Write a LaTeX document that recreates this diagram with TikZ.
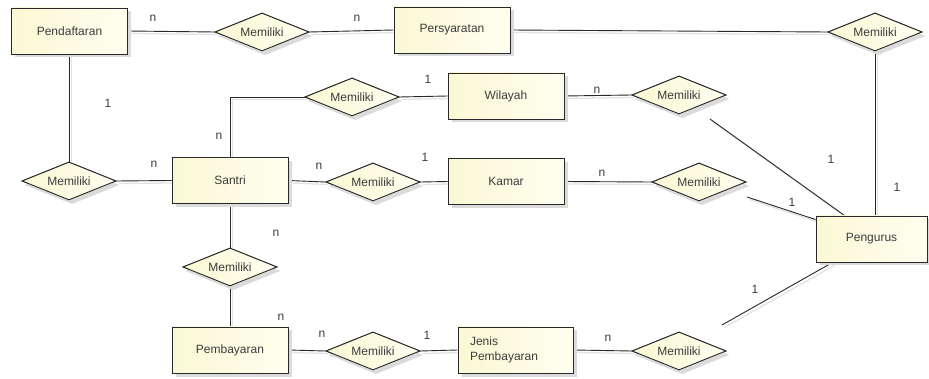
\documentclass[tikz,border=0pt]{standalone}
\usepackage{fontspec}
\setmainfont{Liberation Sans}
\usetikzlibrary{shapes.geometric,shadows}
\definecolor{fillL}{RGB}{251,248,212}
\definecolor{fillR}{RGB}{254,254,240}
\definecolor{inkc}{RGB}{40,40,40}
\definecolor{txtc}{RGB}{60,60,60}
\begin{document}
\begin{tikzpicture}[x=1pt,y=-1pt,
  every node/.style={font=\fontsize{12}{14}\selectfont, text=txtc},
  entity/.style={draw=inkc, line width=0.9pt, rectangle, minimum width=116pt, minimum height=46pt, inner sep=0pt,
     left color=fillL, right color=fillR,
     drop shadow={shadow xshift=3.5pt, shadow yshift=-3.5pt, fill=black!14, opacity=1}},
  rel/.style={draw=inkc, line width=0.9pt, diamond, aspect=2.47, minimum width=94pt, minimum height=38pt, inner sep=0pt,
     left color=fillL, right color=fillR,
     drop shadow={shadow xshift=3pt, shadow yshift=-4pt, fill=black!14, opacity=1}},
  conn/.style={draw=inkc, line width=0.9pt,
     preaction={draw=black!11, line width=1.3pt, transform canvas={xshift=2.5pt,yshift=-2.5pt}}},
  card/.style={inner sep=0pt}
]
\useasboundingbox (0,0) rectangle (929,379);
\fill[white] (0,0) rectangle (929,379);

% entities
\node[entity] (pend) at (69.5,31) {Pendaftaran};
\node[entity] (pers) at (452,30) {Persyaratan};
\node[entity] (wil) at (506,96) {Wilayah};
\node[entity] (san) at (230,180.5) {Santri};
\node[entity] (kam) at (506,181.5) {Kamar};
\node[entity, minimum width=111pt] (peng) at (871.5,239) {Pengurus};
\node[entity] (pemb) at (230,350) {Pembayaran};
\node[entity, minimum width=115pt, align=left, text width=91pt, font=\fontsize{12}{15}\selectfont] (jenis) at (515.5,350) {Jenis\\Pembayaran};

% relationships
\node[rel] (d1) at (262,32) {Memiliki};
\node[rel] (d2) at (875,32) {Memiliki};
\node[rel] (d3) at (352,97) {Memiliki};
\node[rel] (d4) at (679,95) {Memiliki};
\node[rel] (d5) at (69,181) {Memiliki};
\node[rel] (d6) at (373,182) {Memiliki};
\node[rel] (d7) at (699,182) {Memiliki};
\node[rel] (d8) at (230,267) {Memiliki};
\node[rel] (d9) at (373,351) {Memiliki};
\node[rel] (d10) at (679,351) {Memiliki};

% free ends
\coordinate (f4) at (710,119);
\coordinate (f7) at (747,197);
\coordinate (f10) at (722,325);

% connectors
\draw[conn] (pend.east) -- (d1.west);
\draw[conn] (d1.east) -- (pers.west);
\draw[conn] (pers.east) -- (d2.west);
\draw[conn] (d2.south) -- (d2.south |- peng.north);
\draw[conn] (d5.north |- pend.south) -- (d5.north);
\draw[conn] (d5.east) -- (san.west);
\draw[conn] (san.north) |- (d3.west);
\draw[conn] (d3.east) -- (wil.west);
\draw[conn] (wil.east) -- (d4.west);
\draw[conn] (f4) -- ([xshift=29pt]peng.north west);
\draw[conn] (san.east) -- (d6.west);
\draw[conn] (d6.east) -- (kam.west);
\draw[conn] (kam.east) -- (d7.west);
\draw[conn] (f7) -- ([yshift=-4pt]peng.north west);
\draw[conn] (san.south) -- (d8.north);
\draw[conn] (d8.south) -- (pemb.north);
\draw[conn] (pemb.east) -- (d9.west);
\draw[conn] (d9.east) -- (jenis.west);
\draw[conn] (jenis.east) -- (d10.west);
\draw[conn] (f10) -- ([xshift=17pt]peng.south west);

% redraw nodes on top of connectors
\node[entity] at (pend) {Pendaftaran};
\node[entity] at (pers) {Persyaratan};
\node[entity] at (wil) {Wilayah};
\node[entity] at (san) {Santri};
\node[entity] at (kam) {Kamar};
\node[entity, minimum width=111pt] at (peng) {Pengurus};
\node[entity] at (pemb) {Pembayaran};
\node[entity, minimum width=115pt, align=left, text width=91pt, font=\fontsize{12}{15}\selectfont] at (jenis) {Jenis\\Pembayaran};
\foreach \d in {d1,d2,d3,d4,d5,d6,d7,d8,d9,d10} {\node[rel] at (\d) {Memiliki};}

% cardinalities
\node[card] (c1) at (153,18) {n};
\node[card] (c2) at (357,18) {n};
\node[card] (c3) at (108,103) {1};
\node[card] (c4) at (428,79) {1};
\node[card] (c5) at (597,90) {n};
\node[card] (c6) at (219,136) {n};
\node[card] (c7) at (154,164) {n};
\node[card] (c8) at (319,166) {n};
\node[card] (c9) at (425,157) {1};
\node[card] (c10) at (602,173) {n};
\node[card] (c11) at (831,159) {1};
\node[card] (c12) at (897,187) {1};
\node[card] (c13) at (792,202) {1};
\node[card] (c14) at (276,233) {n};
\node[card] (c15) at (281,317) {n};
\node[card] (c16) at (322,334) {n};
\node[card] (c17) at (427,335) {1};
\node[card] (c18) at (608,338) {n};
\node[card] (c19) at (755,289) {1};
\end{tikzpicture}
\end{document}
